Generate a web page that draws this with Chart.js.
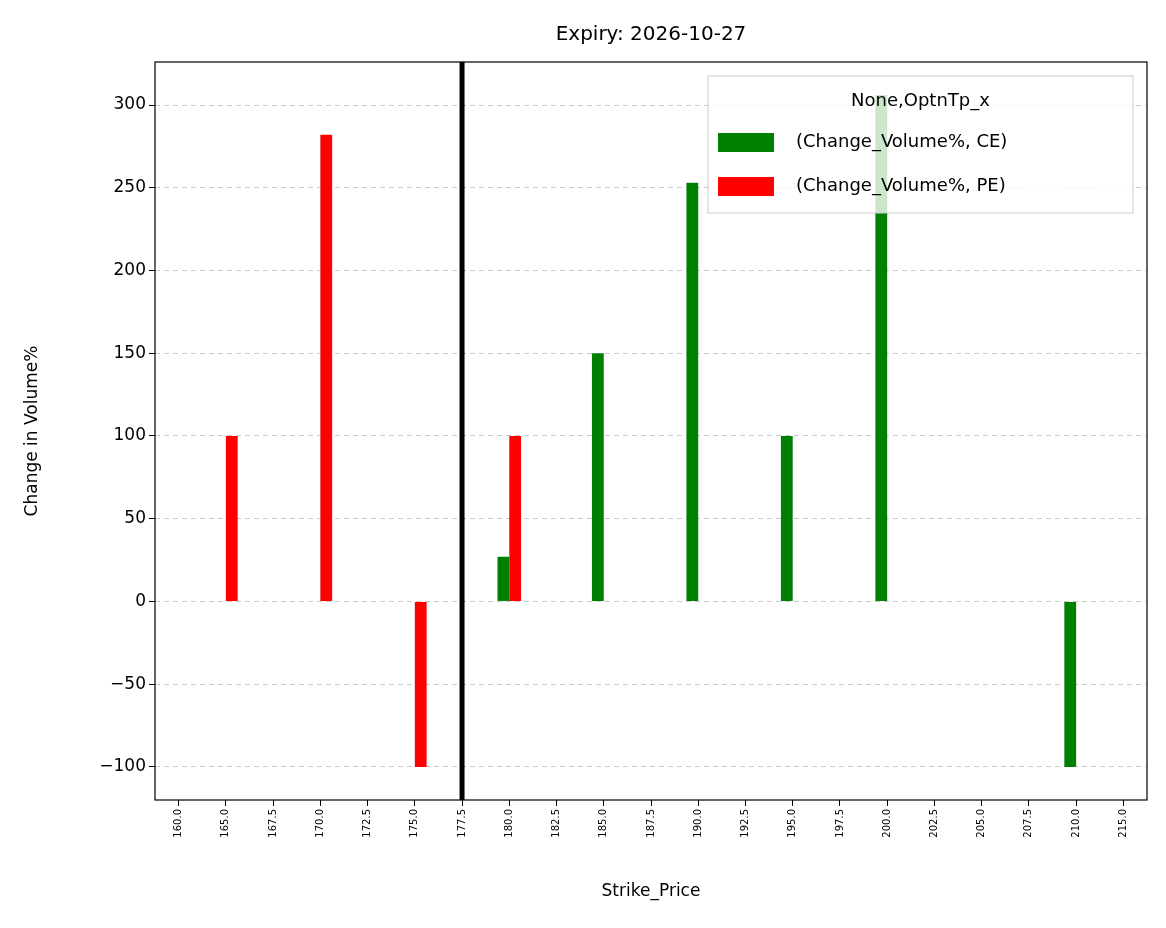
<!DOCTYPE html>
<html>
<head>
<script src="https://cdn.jsdelivr.net/npm/chart.js@4"></script>
<style>body{margin:0;background:#fff}</style>
</head>
<body>
<canvas id="c" width="1166" height="928"></canvas>
<script>
const strikes = ["160.0","165.0","167.5","170.0","172.5","175.0","177.5","180.0","182.5","185.0","187.5","190.0","192.5","195.0","197.5","200.0","202.5","205.0","207.5","210.0","215.0"];
const ceValues = [0,0,0,0,0,0,0,27,0,150,0,253,0,100,0,306,0,0,0,-100,0];
const peValues = [0,100,0,282,0,-100,0,100,0,0,0,0,0,0,0,0,0,0,0,0,0];
const atmStrike = "177.5";
const expiry = "2026-10-27";

const FONT = "'DejaVu Sans', sans-serif";

const extras = {
  id: "extras",
  afterDraw(chart) {
    const ctx = chart.ctx, a = chart.chartArea, x = chart.scales.x;
    ctx.save();
    // ATM line
    const lx = x.getPixelForValue(strikes.indexOf(atmStrike));
    ctx.strokeStyle = "#000"; ctx.lineWidth = 5;
    ctx.beginPath(); ctx.moveTo(lx, a.top); ctx.lineTo(lx, a.bottom); ctx.stroke();
    // frame
    ctx.lineWidth = 1.2;
    ctx.strokeRect(a.left, a.top, a.right - a.left, a.bottom - a.top);
    // title
    ctx.fillStyle = "#000"; ctx.textAlign = "center"; ctx.textBaseline = "middle";
    ctx.font = "20px " + FONT;
    ctx.fillText("Expiry: " + expiry, (a.left + a.right) / 2, 35);
    // axis titles
    ctx.font = "17px " + FONT;
    ctx.fillText("Strike_Price", (a.left + a.right) / 2, 892);
    ctx.save();
    ctx.translate(33, (a.top + a.bottom) / 2);
    ctx.rotate(-Math.PI / 2);
    ctx.fillText("Change in Volume%", 0, 0);
    ctx.restore();
    // legend
    const bx = 708, by = 76, bw = 425, bh = 137;
    ctx.globalAlpha = 0.8; ctx.fillStyle = "#fff";
    ctx.fillRect(bx, by, bw, bh);
    ctx.globalAlpha = 1; ctx.strokeStyle = "#ccc"; ctx.lineWidth = 1;
    ctx.strokeRect(bx, by, bw, bh);
    ctx.fillStyle = "#000"; ctx.font = "18px " + FONT;
    ctx.fillText("None,OptnTp_x", bx + bw / 2, 101);
    ctx.textAlign = "left";
    const items = [["green", "(Change_Volume%, CE)", 142], ["red", "(Change_Volume%, PE)", 186]];
    for (const [c, t, y] of items) {
      ctx.fillStyle = c; ctx.fillRect(718, y - 9, 56, 19);
      ctx.fillStyle = "#000"; ctx.fillText(t, 796, y);
    }
    ctx.restore();
  }
};

new Chart(document.getElementById("c"), {
  type: "bar",
  data: {
    labels: strikes,
    datasets: [
      { label: "(Change_Volume%, CE)", data: ceValues, backgroundColor: "green" },
      { label: "(Change_Volume%, PE)", data: peValues, backgroundColor: "red" }
    ]
  },
  options: {
    responsive: false,
    animation: false,
    devicePixelRatio: 1,
    categoryPercentage: 0.5,
    barPercentage: 1,
    layout: { padding: { top: 62, right: 19, left: 0, bottom: 0 } },
    plugins: { legend: { display: false }, tooltip: { enabled: false } },
    scales: {
      x: {
        grid: { drawOnChartArea: false, drawTicks: true, tickLength: 6, tickColor: "#000", offset: false },
        border: { display: false },
        ticks: { minRotation: 90, maxRotation: 90, autoSkip: false, color: "#000", font: { family: FONT, size: 10 } },
        afterFit(s) { s.height = 128; }
      },
      y: {
        min: -120, max: 326,
        afterBuildTicks(s) { s.ticks = [-100,-50,0,50,100,150,200,250,300].map(v => ({ value: v })); },
        grid: { color: "#c8c8c8", tickColor: "#000", tickLength: 6, drawOnChartArea: true },
        border: { display: false, dash: [5, 4] },
        ticks: { color: "#000", font: { family: FONT, size: 17 }, callback: v => String(v).replace("-", "\u2212") },
        afterFit(s) { s.width = 155; }
      }
    }
  },
  plugins: [extras]
});
</script>
</body>
</html>
